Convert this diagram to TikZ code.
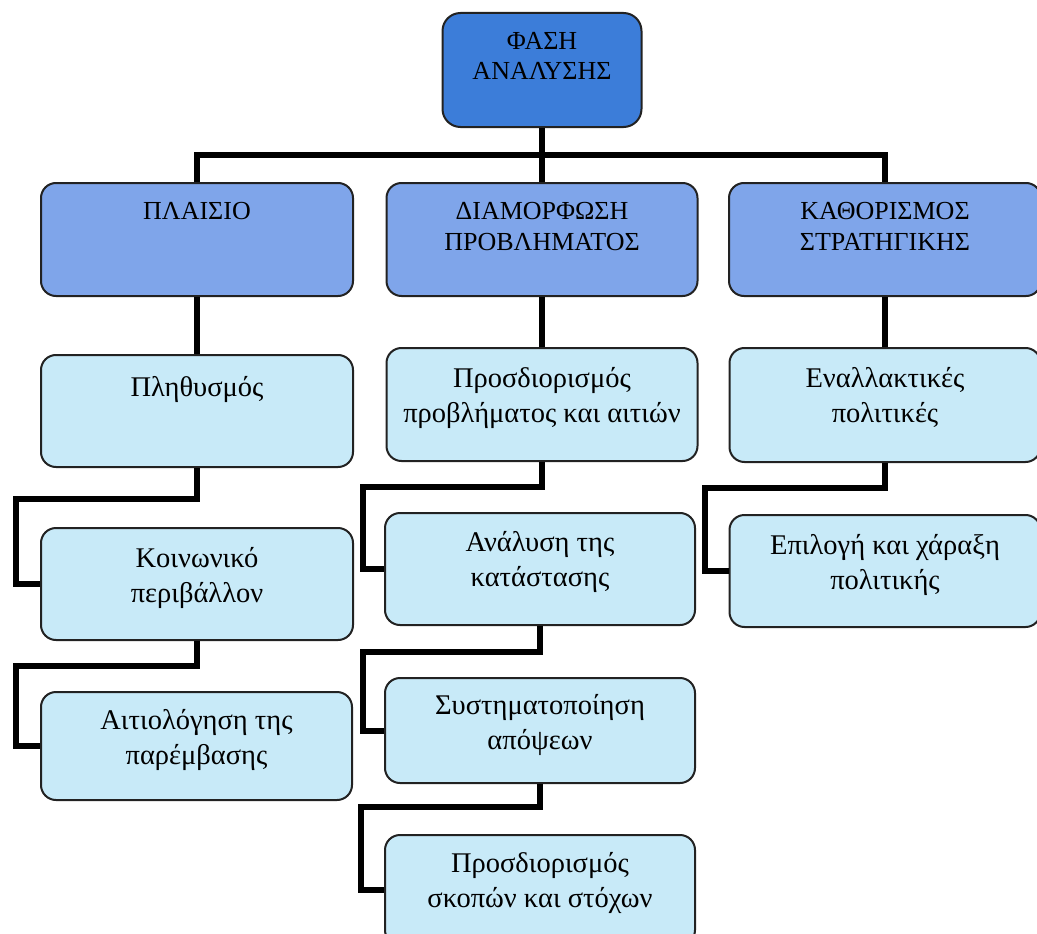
\documentclass[tikz,border=0pt]{standalone}
\usepackage{fontspec}
\setmainfont{Liberation Serif}
\definecolor{topblue}{HTML}{3C7DD9}
\definecolor{midblue}{HTML}{7FA5EA}
\definecolor{lightcyan}{HTML}{C8EAF8}
\definecolor{edge}{HTML}{222222}
\begin{document}
\begin{tikzpicture}[x=1pt,y=-1pt,
  boxbase/.style={draw=edge, line width=2pt, rounded corners=15pt, inner sep=0pt},
  topbox/.style={boxbase, fill=topblue, rounded corners=18pt},
  lvlone/.style={boxbase, fill=midblue},
  lvltwo/.style={boxbase, fill=lightcyan},
  captxt/.style={anchor=base, align=center, inner sep=0pt, font=\fontsize{26}{30.5}\selectfont},
  lowtxt/.style={anchor=base, align=center, inner sep=0pt, font=\fontsize{28.5}{35}\selectfont},
  conn/.style={line width=6pt, draw=black, line join=miter}]
\useasboundingbox (0,0) rectangle (1037,934);
\clip (0,0) rectangle (1037,934);
\fill[white] (0,0) rectangle (1037,934);

% connector anchors
\coordinate (bar) at (0,155);
\coordinate (ea1) at (16,499);
\coordinate (ea2) at (16,666);
\coordinate (eb1) at (363,487);
\coordinate (eb2) at (363,652);
\coordinate (eb3) at (361,807);
\coordinate (ec1) at (705,488);

% boxes
\node[topbox, minimum width=199pt, minimum height=114pt] (top) at (542,70) {};
\node[lvlone, minimum width=312pt, minimum height=113pt] (a) at (197,239.5) {};
\node[lvlone, minimum width=311pt, minimum height=113pt] (b) at (542,239.5) {};
\node[lvlone, minimum width=312pt, minimum height=113pt] (c) at (885,239.5) {};

\node[lvltwo, minimum width=312pt, minimum height=112pt] (p1) at (197,411) {};
\node[lvltwo, minimum width=312pt, minimum height=112pt] (p2) at (197,584) {};
\node[lvltwo, minimum width=311pt, minimum height=108pt] (p3) at (196.5,746) {};

\node[lvltwo, minimum width=311pt, minimum height=113pt] (m1) at (542,404.5) {};
\node[lvltwo, minimum width=310pt, minimum height=112pt] (m2) at (540,569) {};
\node[lvltwo, minimum width=310pt, minimum height=105pt] (m3) at (540,730.5) {};
\node[lvltwo, minimum width=310pt, minimum height=110pt] (m4) at (540,890) {};

\node[lvltwo, minimum width=311pt, minimum height=114pt] (r1) at (885,405) {};
\node[lvltwo, minimum width=311pt, minimum height=112pt] (r2) at (885,571) {};

% tree connectors
\draw[conn] (top.south) -- (b.north);
\draw[conn] (a.north) -- (a.north |- bar) -- (c.north |- bar) -- (c.north);
\draw[conn] (a.south) -- (p1.north);
\draw[conn] (b.south) -- (m1.north);
\draw[conn] (c.south) -- (r1.north);

% elbow connectors
\draw[conn] (p1.south) |- (ea1) |- (p2.west);
\draw[conn] (p2.south) |- (ea2) |- (p3.west);
\draw[conn] (m1.south) |- (eb1) |- (m2.west);
\draw[conn] (m2.south) |- (eb2) |- (m3.west);
\draw[conn] (m3.south) |- (eb3) |- (m4.west);
\draw[conn] (r1.south) |- (ec1) |- (r2.west);

% texts (anchor=base is the last line's baseline)
\node[captxt] (ttop) at ([yshift=-68pt]top.north) {ΦΑΣΗ\\ΑΝΑΛΥΣΗΣ};
\node[captxt] (ta) at ([yshift=-37pt]a.north) {ΠΛΑΙΣΙΟ};
\node[captxt] (tb) at ([yshift=-68pt]b.north) {ΔΙΑΜΟΡΦΩΣΗ\\ΠΡΟΒΛΗΜΑΤΟΣ};
\node[captxt] (tc) at ([yshift=-68pt]c.north) {ΚΑΘΟΡΙΣΜΟΣ\\ΣΤΡΑΤΗΓΙΚΗΣ};

\node[lowtxt] (tp1) at ([yshift=-42pt]p1.north) {Πληθυσμός};
\node[lowtxt] (tp2) at ([yshift=-75pt]p2.north) {Κοινωνικό\\περιβάλλον};
\node[lowtxt] (tp3) at ([yshift=-73pt]p3.north) {Αιτιολόγηση της\\παρέμβασης};

\node[lowtxt] (tm1) at ([yshift=-75pt]m1.north) {Προσδιορισμός\\προβλήματος και αιτιών};
\node[lowtxt] (tm2) at ([yshift=-74pt]m2.north) {Ανάλυση της\\κατάστασης};
\node[lowtxt] (tm3) at ([yshift=-72pt]m3.north) {Συστηματοποίηση\\απόψεων};
\node[lowtxt] (tm4) at ([yshift=-73pt]m4.north) {Προσδιορισμός\\σκοπών και στόχων};

\node[lowtxt] (tr1) at ([yshift=-75pt]r1.north) {Εναλλακτικές\\πολιτικές};
\node[lowtxt] (tr2) at ([yshift=-75pt]r2.north) {Επιλογή και χάραξη\\πολιτικής};
\end{tikzpicture}
\end{document}
